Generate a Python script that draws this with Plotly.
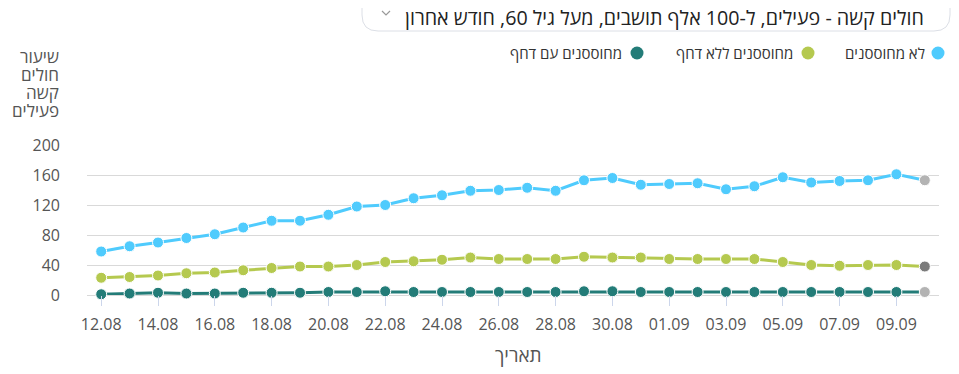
import plotly.graph_objects as go

dates = ["12.08", "13.08", "14.08", "15.08", "16.08", "17.08", "18.08", "19.08", "20.08", "21.08",
         "22.08", "23.08", "24.08", "25.08", "26.08", "27.08", "28.08", "29.08", "30.08", "31.08",
         "01.09", "02.09", "03.09", "04.09", "05.09", "06.09", "07.09", "08.09", "09.09", "10.09"]
unvaccinated = [58, 65, 70, 76, 81, 90, 99, 99, 107, 118,
                120, 129, 133, 139, 140, 143, 139, 153, 156, 147,
                148, 149, 141, 145, 157, 150, 152, 153, 161, 153]
vaccinated_no_booster = [23, 24, 26, 29, 30, 33, 36, 38, 38, 40,
                         44, 45, 47, 50, 48, 48, 48, 51, 50, 50,
                         48, 48, 48, 48, 44, 40, 39, 40, 40, 38]
vaccinated_booster = [1, 2, 3, 2, 2, 3, 3, 3, 4, 4,
                      5, 4, 4, 4, 4, 4, 4, 5, 5, 4,
                      4, 4, 4, 4, 4, 4, 4, 4, 4, 4]
series_names = ["לא מחוססנים", "מחוססנים ללא דחף", "מחוססנים עם דחף"]
y_ticks = [0, 40, 80, 120, 160, 200]
tick_dates = dates[::2][:15]

title_text = "חולים קשה - פעילים, ל-100 אלף תושבים, מעל גיל 60, חודש אחרון"
y_title_lines = ["שיעור", "חולים", "קשה", "פעילים"]
x_title = "תאריך"

colors = ["#4fcbfd", "#b5c94f", "#237c78"]
last_colors = ["#b3b3b3", "#7b7b7b", "#b3b3b3"]

# page has an 8px body margin; figure is sized to fill the rest of the window
OFF = 8
W, H = 959 - OFF, 374 - OFF
PL, PT, PR, PB = 87, 145, 939, 295   # plot area in window pixels
PW, PH = PR - PL, PB - PT


def px(x):
    return (x - PL) / PW


def py(y):
    return (PB - y) / PH


fig = go.Figure()
for vals, name, c, lc in zip([unvaccinated, vaccinated_no_booster, vaccinated_booster],
                             series_names, colors, last_colors):
    mc = [c] * (len(vals) - 1) + [lc]
    fig.add_trace(go.Scatter(
        x=dates, y=vals, name=name, mode="lines+markers",
        line=dict(color=c, width=3),
        marker=dict(color=mc, size=11, line=dict(color="white", width=1)),
        cliponaxis=False, showlegend=False))

shapes = []
# title box (rounded bottom corners)
r = 16
x0, x1, yb = px(362), px(950), py(31)
rx, ry = r / PW, r / PH
ytop = py(-10)
path = (f"M {x0},{ytop} L {x0},{yb + ry} Q {x0},{yb} {x0 + rx},{yb} "
        f"L {x1 - rx},{yb} Q {x1},{yb} {x1},{yb + ry} L {x1},{ytop} Z")
shapes.append(dict(type="path", path=path, xref="paper", yref="paper",
                   line=dict(color="#dcdfe6", width=1), fillcolor="white", layer="below"))
# chevron
shapes.append(dict(type="path", xref="paper", yref="paper",
                   path=f"M {px(382)},{py(11)} L {px(386)},{py(15)} L {px(390)},{py(11)}",
                   line=dict(color="#999999", width=1.2)))

# legend markers
legend_marker_x = [938, 808, 637]
legend_text_right = [927, 795, 624]
for mx, c in zip(legend_marker_x, colors):
    rr = 6.5
    shapes.append(dict(type="circle", xref="paper", yref="paper",
                       x0=px(mx - rr), x1=px(mx + rr), y0=py(53 + rr), y1=py(53 - rr),
                       fillcolor=c, line=dict(width=0)))

annotations = [
    dict(text=title_text, x=px(926), y=py(17), xref="paper", yref="paper",
         xanchor="right", yanchor="middle", showarrow=False,
         font=dict(size=19.7, color="#222222")),
    dict(text=x_title, x=px(518), y=py(355), xref="paper", yref="paper",
         xanchor="center", yanchor="middle", showarrow=False,
         font=dict(size=19, color="#555555")),
]
for line, ly in zip(y_title_lines, [56, 74.5, 92.5, 110.5]):
    annotations.append(dict(text=line, x=px(61), y=py(ly), xref="paper", yref="paper",
                            xanchor="right", yanchor="middle", showarrow=False,
                            font=dict(size=17, color="#555555")))
for name, tr in zip(series_names, legend_text_right):
    annotations.append(dict(text=name, x=px(tr), y=py(53), xref="paper", yref="paper",
                            xanchor="right", yanchor="middle", showarrow=False,
                            font=dict(size=15, color="#333333")))

fig.update_layout(
    width=W, height=H,
    margin=dict(l=PL - OFF, r=959 - PR, t=PT - OFF, b=374 - PB, pad=0),
    plot_bgcolor="white", paper_bgcolor="white",
    font=dict(family="Open Sans", color="#555555"),
    shapes=shapes, annotations=annotations,
    showlegend=False,
    xaxis=dict(type="category", range=[-0.5, 29.5], tickmode="array",
               tickvals=tick_dates, ticktext=tick_dates,
               ticks="outside", ticklen=10, tickcolor="#ccd6eb", tickwidth=1,
               ticklabelstandoff=5,
               showgrid=False, showline=False, zeroline=False,
               tickfont=dict(size=16, color="#555555")),
    yaxis=dict(range=[0, 200], tickmode="array", tickvals=y_ticks,
               showgrid=True, gridcolor="#d9d9d9", gridwidth=1,
               zeroline=True, zerolinecolor="#d9d9d9", zerolinewidth=1,
               showline=False, ticks="", ticklabelstandoff=26,
               tickfont=dict(size=16, color="#555555")),
)

fig.write_html("out.html")
